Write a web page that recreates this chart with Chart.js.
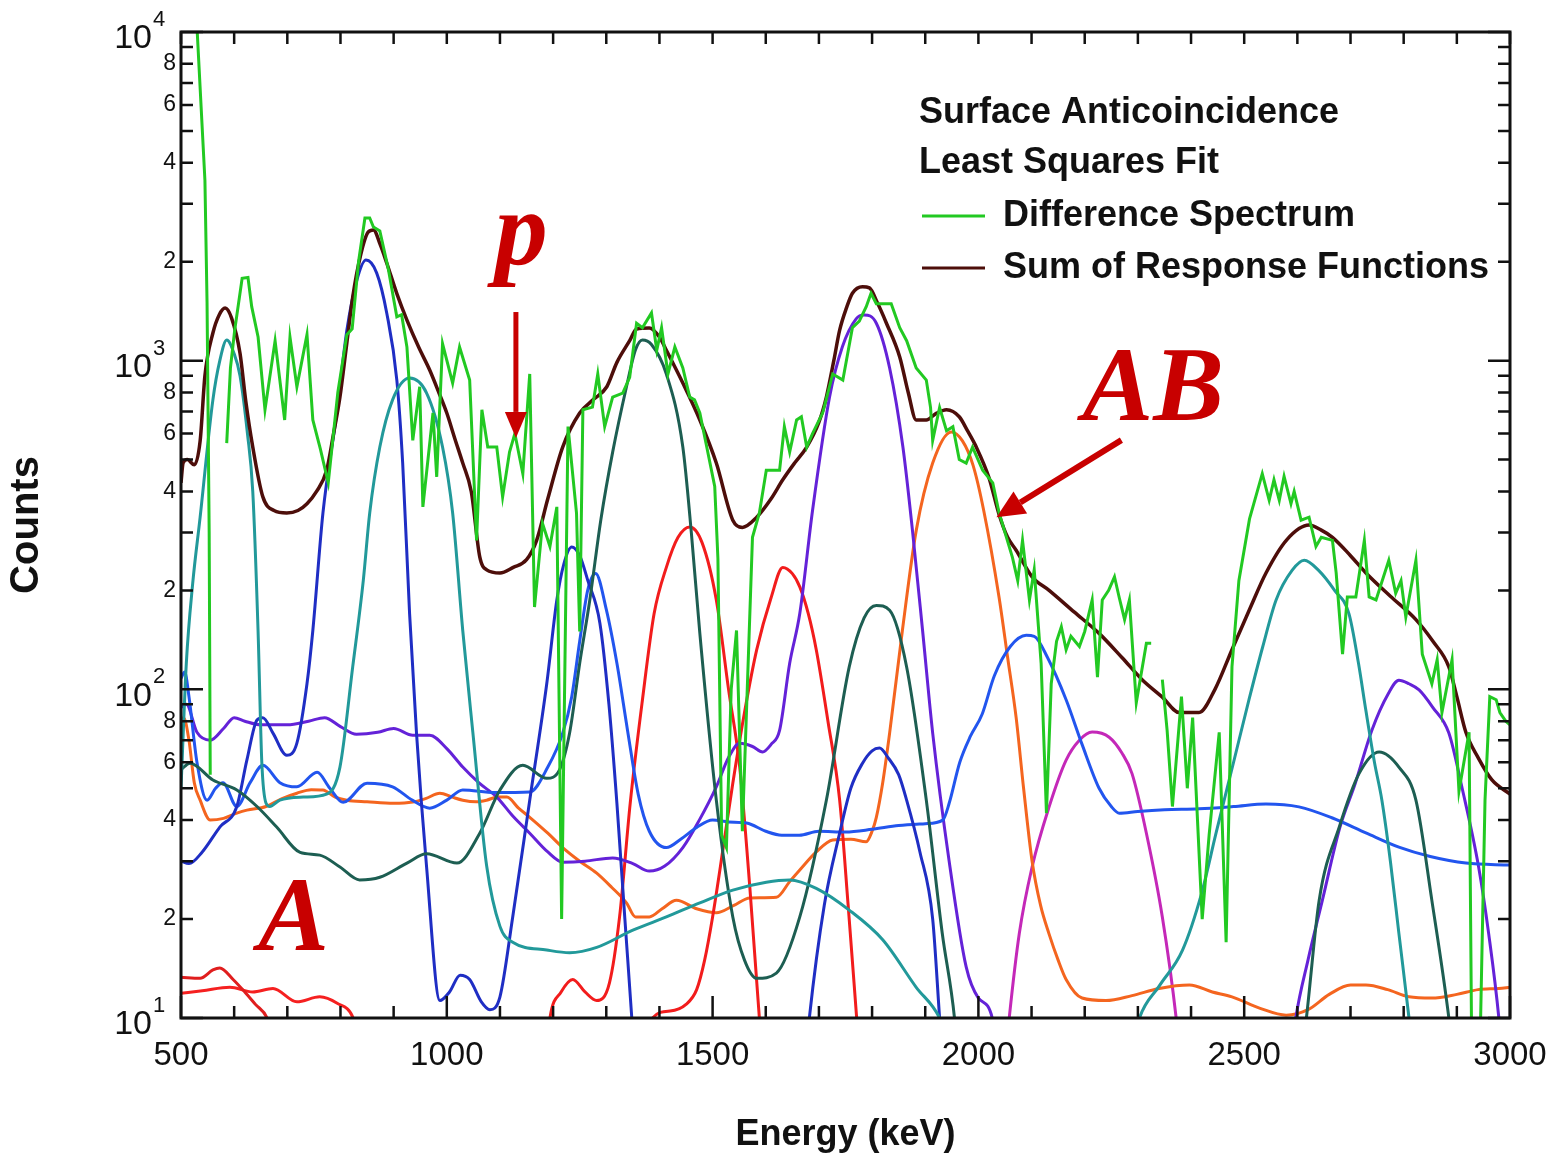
<!DOCTYPE html>
<html>
<head>
<meta charset="utf-8">
<title>Surface Anticoincidence - Least Squares Fit</title>
<script src="https://cdn.jsdelivr.net/npm/chart.js@4.4.1/dist/chart.umd.min.js"></script>
<style>
    html, body { margin: 0; padding: 0; background: #fff; }
    #wrap { width: 1548px; height: 1156px; }
</style>
</head>
<body>
<div id="wrap"><canvas id="spectrumCanvas" width="1548" height="1156"></canvas></div>
<script>
// axis ticks
const energyTicks = [500, 1000, 1500, 2000, 2500, 3000];
const countDecades = [10, 100, 1000, 10000];

// [energy keV, counts], null = gap in the line
const differenceSpectrum = [
    [500, 30000], [528, 12000], [545, 3540], [549, 1500], [553, 300], [555, 55], [560, null],
    [586, 561], [593, 950], [601, 1238], [615, 1780], [626, 1790], [633, 1460], [645, 1180], [658, 709],
    [677, 1150], [695, 660], [705, 1180], [718, 833], [737, 1200], [748, 660], [762, 540], [777, 425],
    [795, 800], [812, 1200], [822, 1250], [834, 2000], [846, 2717], [855, 2717], [862, 2550], [874, 2480],
    [890, 1900], [906, 1360], [915, 1380], [925, 1100], [936, 572], [949, 833], [955, 359], [974, 693],
    [981, 443], [992, 1126], [1011, 855], [1024, 1100], [1043, 873], [1056, 284], [1066, 709], [1077, 546],
    [1094, 546], [1105, 385], [1118, 527], [1128, 600], [1143, 453], [1156, 911], [1165, 178], [1180, 320],
    [1194, 272], [1207, 359], [1216, 20], [1228, 630], [1244, 344], [1250, 150], [1256, 709], [1274, 722],
    [1284, 911], [1297, 630], [1312, 775], [1331, 797], [1344, 889], [1357, 1300], [1368, 1260], [1385, 1397],
    [1395, 1076], [1404, 1260], [1416, 911], [1429, 1100], [1444, 950], [1457, 775], [1466, 760], [1476, 693],
    [1489, 546], [1504, 414], [1510, 250], [1517, 36], [1526, 33], [1535, 100], [1545, 151], [1556, 37],
    [1575, 290], [1588, 344], [1601, 464], [1626, 464], [1635, 630], [1645, 527], [1658, 660], [1667, 675],
    [1677, 546], [1688, 600], [1707, 693], [1726, 911], [1745, 873], [1763, 1260], [1776, 1320], [1789, 1460],
    [1798, 1604], [1808, 1490], [1820, 1490], [1836, 1490], [1852, 1260], [1865, 1150], [1883, 950], [1902, 873],
    [1910, 720], [1914, 572], [1927, 720], [1940, 612], [1952, 630], [1964, 500], [1977, 488], [1989, 546],
    [2008, 464], [2027, 425], [2039, 344], [2064, 252], [2074, 214], [2083, 284], [2096, 187], [2105, 231],
    [2118, 120], [2128, 42], [2137, 104], [2147, 140], [2156, 155], [2165, 132], [2174, 145], [2190, 135],
    [2200, 150], [2214, 187], [2224, 109], [2233, 187], [2245, 200], [2256, 220], [2265, 190], [2275, 163],
    [2284, 187], [2297, 91], [2316, 138], [2325, 138], [2335, null], [2346, 107], [2355, 75], [2365, 44],
    [2382, 95], [2393, 50], [2403, 82], [2421, 20], [2434, 36], [2453, 74], [2466, 17], [2477, 117],
    [2490, 214], [2510, 330], [2534, 453], [2547, 376], [2556, 434], [2566, 376], [2575, 445], [2588, 367],
    [2594, 400], [2607, 327], [2622, 334], [2635, 272], [2645, 290], [2666, 284], [2673, 226], [2685, 128],
    [2694, 191], [2710, 191], [2726, 284], [2735, 191], [2748, 187], [2772, 247], [2785, 196], [2795, 214],
    [2804, 166], [2823, 247], [2835, 128], [2853, 104], [2863, 123], [2872, 85], [2891, 123], [2904, 49],
    [2917, 65], [2923, 74], [2929, 5], [2941, 5], [2953, 46], [2962, 95], [2974, 93], [2981, 85],
    [2992, 80], [3000, 78]
];

const sumOfResponses = [
    [500, 425], [504, 489], [512, 500], [525, 482], [536, 570], [545, 900], [560, 1214], [572, 1380],
    [583, 1446], [595, 1350], [611, 1054], [622, 750], [635, 546], [654, 385], [675, 350], [699, 344],
    [720, 350], [737, 367], [755, 400], [774, 464], [787, 600], [799, 775], [811, 1100], [823, 1559],
    [838, 2100], [852, 2462], [862, 2500], [875, 2250], [887, 1983], [906, 1600], [925, 1329], [947, 1100],
    [968, 935], [985, 800], [1000, 693], [1015, 580], [1030, 488], [1046, 400], [1062, 253], [1075, 231],
    [1100, 226], [1125, 235], [1150, 248], [1169, 284], [1190, 380], [1218, 546], [1250, 693], [1275, 760],
    [1301, 833], [1320, 988], [1344, 1150], [1357, 1249], [1381, 1258], [1400, 1180], [1413, 1076], [1444, 855],
    [1476, 660], [1507, 488], [1538, 327], [1556, 311], [1583, 334], [1610, 380], [1632, 434], [1655, 490],
    [1677, 546], [1700, 650], [1714, 775], [1728, 1000], [1739, 1238], [1752, 1450], [1763, 1604], [1782, 1679],
    [1795, 1665], [1810, 1500], [1827, 1300], [1852, 1026], [1868, 800], [1883, 660], [1902, 660], [1920, 690],
    [1940, 709], [1964, 675], [1980, 610], [1996, 546], [2020, 440], [2039, 340], [2055, 290], [2071, 265],
    [2101, 220], [2133, 200], [2180, 172], [2227, 148], [2270, 125], [2308, 107], [2345, 95], [2378, 85],
    [2415, 85], [2445, 100], [2477, 132], [2510, 175], [2541, 226], [2580, 285], [2622, 316], [2645, 305],
    [2666, 290], [2700, 255], [2729, 226], [2775, 192], [2823, 163], [2855, 140], [2885, 117], [2900, 95],
    [2917, 74], [2940, 62], [2966, 53], [3000, 48]
];

// response functions
const tealPeaks = [
    [500, 50], [510, 120], [522, 210], [536, 334], [560, 760], [573, 1000], [586, 1155], [600, 1050],
    [611, 900], [625, 600], [635, 400], [645, 150], [652, 60], [660, 45], [667, 44], [686, 46],
    [730, 47], [774, 48], [799, 58], [823, 117], [843, 215], [855, 344], [874, 546], [898, 760],
    [930, 885], [962, 797], [992, 546], [1011, 344], [1030, 151], [1049, 74], [1075, 29], [1100, 19],
    [1124, 17], [1188, 16.1], [1231, 15.8], [1282, 16.4], [1350, 18.5], [1413, 20.3], [1476, 22.4], [1538, 24.5],
    [1601, 25.9], [1645, 26.3], [1695, 24.8], [1757, 21.3], [1820, 17.3], [1883, 12.4], [1927, 10], [1960, 7]
];
const tealHigh = [
    [2280, 7], [2303, 10], [2340, 12.5], [2384, 16.1], [2420, 24], [2447, 36.5], [2480, 60], [2509, 93],
    [2535, 135], [2560, 187], [2590, 230], [2613, 247], [2640, 230], [2670, 200], [2697, 170], [2715, 120],
    [2729, 86], [2745, 60], [2759, 46], [2775, 30], [2791, 18.1], [2810, 10], [2825, 6]
];
const darkTealPeaks = [
    [500, 57], [517, 59.6], [560, 53], [605, 49.4], [643, 44], [680, 38.1], [724, 31.9], [761, 31.3],
    [799, 28.8], [836, 26.3], [874, 26.8], [925, 29.6], [962, 31.6], [1019, 29.6], [1062, 36.5], [1100, 49.4],
    [1143, 58.7], [1188, 53.6], [1212, 56.9], [1231, 73.6], [1250, 120], [1269, 187], [1290, 330], [1312, 527],
    [1338, 833], [1355, 1080], [1368, 1156], [1385, 1120], [1413, 911], [1444, 546], [1460, 300], [1476, 148],
    [1507, 46], [1538, 20.3], [1560, 15], [1583, 13.2], [1620, 13.7], [1664, 20.3], [1714, 46], [1757, 117],
    [1785, 165], [1808, 180], [1833, 174], [1865, 117], [1902, 46], [1932, 18.1], [1955, 10], [1970, 5]
];
const darkTealHigh = [
    [2600, 6], [2617, 10], [2641, 22.8], [2679, 38.2], [2716, 55.4], [2754, 64.5], [2791, 58], [2823, 46],
    [2853, 22.8], [2885, 10], [2900, 6]
];
const blueDark = [
    [500, 30], [515, 29.5], [540, 32], [573, 38.1], [605, 44], [624, 61], [643, 80.7], [654, 82],
    [673, 73.6], [699, 63], [718, 68.6], [737, 104], [748, 151], [767, 344], [793, 693], [812, 1238],
    [831, 1762], [848, 2023], [868, 1850], [887, 1397], [906, 873], [917, 488], [930, 170], [943, 73.6],
    [962, 28.8], [987, 11.3], [1005, 12], [1025, 13.5], [1043, 13.1], [1065, 11.2], [1081, 10.6], [1100, 11.6],
    [1124, 20.3], [1156, 46], [1188, 104], [1207, 187], [1220, 240], [1235, 271], [1250, 255], [1265, 215],
    [1288, 159], [1305, 90], [1320, 45], [1335, 20], [1348, 10], [1360, 5]
];
const blueDarkHigh = [
    [1665, 5], [1682, 10], [1710, 22], [1739, 36.5], [1760, 50], [1782, 59.6], [1800, 65], [1814, 66.3],
    [1830, 62], [1850, 55], [1865, 46], [1890, 32], [1914, 20], [1927, 10], [1940, 5]
];
const blueBright = [
    [500, 108], [507, 113], [515, 95], [530, 60], [549, 46], [565, 50], [579, 52], [605, 44],
    [630, 52], [654, 58.7], [686, 52], [718, 50.5], [756, 55.9], [780, 50], [805, 45.3], [850, 51.8],
    [898, 50.5], [935, 46], [968, 43.5], [1000, 46], [1030, 49.4], [1090, 48.5], [1156, 48.7], [1190, 58],
    [1218, 73.6], [1235, 95], [1250, 140], [1265, 200], [1280, 225], [1300, 175], [1320, 120], [1340, 75],
    [1360, 48], [1381, 37], [1413, 33], [1440, 35], [1470, 38], [1500, 40], [1530, 39.5], [1564, 39.2],
    [1600, 37], [1630, 36], [1663, 36], [1700, 37], [1750, 36.8], [1800, 37.5], [1850, 38.5], [1900, 39],
    [1933, 40], [1945, 45], [1965, 60], [1985, 72], [2007, 84], [2030, 110], [2060, 135], [2090, 146],
    [2105, 145], [2130, 125], [2165, 93], [2195, 68], [2227, 50], [2250, 44], [2265, 42], [2300, 42.5],
    [2350, 43], [2415, 43.3], [2480, 44], [2541, 44.8], [2603, 43.9], [2666, 40.6], [2730, 36.5], [2791, 33.1],
    [2850, 31], [2917, 29.6], [3000, 29.2]
];
const purplePeaks = [
    [500, 88], [510, 90], [530, 74], [555, 70], [580, 76], [600, 82], [620, 80], [650, 78],
    [700, 78], [740, 80], [770, 82], [800, 77], [830, 73], [870, 74], [900, 76], [936, 72.5],
    [968, 72.5], [1000, 66], [1030, 58], [1060, 52], [1094, 47], [1125, 41], [1156, 36.5], [1190, 32],
    [1218, 29.8], [1260, 30], [1312, 30.7], [1350, 29.5], [1381, 28], [1410, 29], [1444, 33], [1475, 40],
    [1507, 50.5], [1530, 62], [1551, 68.5], [1575, 67], [1594, 64.5], [1610, 68], [1626, 75], [1645, 120],
    [1664, 170], [1688, 350], [1720, 775], [1744, 1100], [1770, 1340], [1785, 1377], [1808, 1300], [1833, 950],
    [1858, 546], [1876, 304], [1895, 151], [1914, 73.6], [1945, 30], [1977, 14.3], [2000, 11.5], [2026, 10],
    [2040, 6]
];
const purpleHigh = [
    [2580, 6], [2597, 10], [2620, 15], [2647, 22.8], [2680, 38], [2709, 51.8], [2740, 75], [2771, 97],
    [2791, 106.6], [2810, 104], [2829, 99.6], [2855, 88], [2885, 73.6], [2910, 50], [2941, 28.8], [2960, 18],
    [2979, 10], [2990, 6]
];
const redLowA = [
    [500, 13.3], [536, 13.2], [560, 14], [573, 14.2], [598, 13.1], [620, 12], [640, 11], [662, 10], [680, 8]
];
const redLowB = [
    [500, 11.9], [540, 12.1], [592, 12.4], [635, 12], [673, 12.3], [718, 11.2], [761, 11.6], [793, 11.1],
    [824, 10], [840, 8]
];
const redPeak1460 = [
    [1180, 6], [1194, 10], [1215, 12], [1237, 13.1], [1260, 12], [1282, 11.3], [1306, 12.8], [1325, 20.3],
    [1345, 45], [1368, 92.8], [1390, 170], [1413, 235], [1435, 290], [1457, 312], [1480, 280], [1507, 187],
    [1530, 100], [1551, 58], [1570, 25], [1588, 10], [1600, 5]
];
const redPeak1640 = [
    [1375, 6], [1387, 10], [1420, 10.5], [1450, 11], [1470, 12.2], [1485, 15], [1500, 20.3], [1520, 33],
    [1538, 51.8], [1560, 85], [1583, 132], [1610, 190], [1632, 235], [1650, 225], [1664, 205], [1680, 170],
    [1695, 132], [1717, 80], [1739, 46], [1755, 22], [1771, 10], [1785, 5]
];
const orangePeak = [
    [500, 81], [505, 82], [515, 70], [525, 52], [536, 46], [555, 40], [580, 40.5], [605, 42],
    [624, 42.9], [660, 44], [690, 46.5], [718, 48.3], [745, 49.5], [767, 49.4], [790, 47], [812, 46],
    [850, 45.5], [900, 45], [936, 45.4], [960, 46.5], [987, 48.3], [1010, 47], [1030, 46], [1055, 45.5],
    [1075, 46], [1095, 47], [1113, 47], [1135, 43.5], [1156, 40.8], [1190, 36.5], [1218, 33], [1250, 30],
    [1282, 27.6], [1310, 25], [1338, 22.4], [1355, 20.3], [1381, 20.3], [1405, 21.5], [1432, 22.8], [1470, 21.5],
    [1507, 20.9], [1540, 22], [1570, 23.2], [1620, 23.3], [1645, 26], [1664, 28.2], [1695, 32], [1726, 34.8],
    [1760, 35], [1789, 34.4], [1800, 37], [1808, 40.8], [1820, 52], [1833, 73.6], [1857, 151], [1883, 304],
    [1914, 488], [1949, 607], [1970, 570], [1990, 480], [2010, 350], [2039, 190], [2055, 125], [2071, 82],
    [2085, 50], [2101, 30], [2117, 22], [2133, 18], [2150, 15], [2165, 13.1], [2195, 11.5], [2240, 11.3],
    [2289, 11.7], [2340, 12.3], [2397, 12.6], [2440, 12], [2477, 11.6], [2530, 10.7], [2579, 10.2], [2620, 10.6],
    [2660, 11.8], [2700, 12.6], [2729, 12.6], [2770, 12.2], [2810, 11.6], [2853, 11.5], [2900, 11.8], [2940, 12.2],
    [2979, 12.3], [3000, 12.4]
];
const magentaPeak = [
    [2045, 6], [2058, 10], [2077, 18.1], [2101, 28.8], [2133, 43.9], [2165, 60.9], [2190, 70], [2214, 74.1],
    [2246, 71.5], [2270, 64], [2289, 55.4], [2316, 36.5], [2346, 20.3], [2372, 10], [2385, 6]
];

function toPoints(pairs) {
    return pairs.map(p => ({ x: p[0], y: p[1] }));
}

function curve(label, pairs, color, width, smooth) {
    return {
        label: label,
        data: toPoints(pairs),
        borderColor: color,
        backgroundColor: color,
        borderWidth: width,
        pointRadius: 0,
        showLine: true,
        spanGaps: false,
        cubicInterpolationMode: smooth ? 'monotone' : 'default',
        tension: 0,
        clip: 0
    };
}

const sansFont = "'Liberation Sans', Arial, Helvetica, sans-serif";
const serifFont = "'Liberation Serif', 'Times New Roman', serif";
const noteRed = '#c80000';

function drawArrow(ctx, x1, y1, x2, y2, headLen, headWidth, lineWidth) {
    const ang = Math.atan2(y2 - y1, x2 - x1);
    const bx = x2 - headLen * Math.cos(ang);
    const by = y2 - headLen * Math.sin(ang);
    ctx.beginPath();
    ctx.moveTo(x1, y1);
    ctx.lineTo(bx, by);
    ctx.lineWidth = lineWidth;
    ctx.stroke();
    ctx.beginPath();
    ctx.moveTo(x2, y2);
    ctx.lineTo(bx + headWidth / 2 * Math.sin(ang), by - headWidth / 2 * Math.cos(ang));
    ctx.lineTo(bx - headWidth / 2 * Math.sin(ang), by + headWidth / 2 * Math.cos(ang));
    ctx.closePath();
    ctx.fill();
}

// frame, inward ticks, tick labels, titles, legend and the red notes
const axesAndNotes = {
    id: 'axesAndNotes',
    afterDraw(chart) {
        const ctx = chart.ctx;
        const a = chart.chartArea;
        const xs = chart.scales.x;
        const ys = chart.scales.y;
        ctx.save();

        ctx.strokeStyle = '#111';
        ctx.lineWidth = 3;
        ctx.strokeRect(a.left, a.top, a.right - a.left, a.bottom - a.top);

        ctx.lineWidth = 2.5;
        ctx.beginPath();
        for (let e = 500; e <= 3000; e += 100) {
            const px = xs.getPixelForValue(e);
            const len = (e % 500 === 0) ? 22 : 12;
            ctx.moveTo(px, a.bottom); ctx.lineTo(px, a.bottom - len);
            ctx.moveTo(px, a.top); ctx.lineTo(px, a.top + 12);
        }
        for (let d = 10; d < 10000; d *= 10) {
            for (let m = 1; m <= 10; m++) {
                const py = ys.getPixelForValue(d * m);
                const len = (m === 1 || m === 10) ? 22 : 12;
                ctx.moveTo(a.left, py); ctx.lineTo(a.left + len, py);
                ctx.moveTo(a.right, py); ctx.lineTo(a.right - len, py);
            }
        }
        ctx.stroke();

        // x tick labels
        ctx.fillStyle = '#111';
        ctx.font = '33px ' + sansFont;
        ctx.textAlign = 'center';
        ctx.textBaseline = 'middle';
        energyTicks.forEach(e => {
            ctx.fillText(String(e), xs.getPixelForValue(e), a.bottom + 38);
        });

        // y tick labels: 10^n and the 2,4,6,8 minors
        countDecades.forEach(d => {
            const py = ys.getPixelForValue(d);
            ctx.font = '34px ' + sansFont;
            ctx.textAlign = 'right';
            ctx.textBaseline = 'middle';
            ctx.fillText('10', a.left - 29, py + 7);
            ctx.font = '22px ' + sansFont;
            ctx.textAlign = 'left';
            ctx.fillText(String(Math.round(Math.log10(d))), a.left - 28, py - 12);
        });
        ctx.font = '23px ' + sansFont;
        ctx.textAlign = 'right';
        ctx.textBaseline = 'middle';
        for (let d = 10; d < 10000; d *= 10) {
            [2, 4, 6, 8].forEach(m => {
                ctx.fillText(String(m), a.left - 5, ys.getPixelForValue(d * m));
            });
        }

        // axis titles
        ctx.font = 'bold 36px ' + sansFont;
        ctx.textAlign = 'center';
        ctx.fillText('Energy (keV)', (a.left + a.right) / 2, a.bottom + 117);
        ctx.save();
        ctx.translate(27, 525);
        ctx.rotate(-Math.PI / 2);
        ctx.font = 'bold 40px ' + sansFont;
        ctx.fillText('Counts', 0, 0);
        ctx.restore();

        // legend block
        ctx.textAlign = 'left';
        ctx.font = 'bold 36px ' + sansFont;
        ctx.fillText('Surface Anticoincidence', 919, 113);
        ctx.fillText('Least Squares Fit', 919, 163);
        ctx.fillText('Difference Spectrum', 1003, 216);
        ctx.fillText('Sum of Response Functions', 1003, 268);
        ctx.lineWidth = 3;
        ctx.strokeStyle = chart.data.datasets[0].borderColor;
        ctx.beginPath(); ctx.moveTo(922, 216); ctx.lineTo(985, 216); ctx.stroke();
        ctx.strokeStyle = chart.data.datasets[1].borderColor;
        ctx.beginPath(); ctx.moveTo(922, 268); ctx.lineTo(985, 268); ctx.stroke();

        // red notes placed in data coordinates
        ctx.fillStyle = noteRed;
        ctx.strokeStyle = noteRed;
        ctx.font = 'italic bold 106px ' + serifFont;
        ctx.textAlign = 'center';
        ctx.textBaseline = 'alphabetic';
        ctx.fillText('p', xs.getPixelForValue(1140), ys.getPixelForValue(1968));
        ctx.fillText('AB', xs.getPixelForValue(2329), ys.getPixelForValue(659));
        ctx.fillText('A', xs.getPixelForValue(712), ys.getPixelForValue(16.1));
        drawArrow(ctx, xs.getPixelForValue(1130), ys.getPixelForValue(1406),
            xs.getPixelForValue(1130), ys.getPixelForValue(582), 26, 22, 5);
        drawArrow(ctx, xs.getPixelForValue(2269), ys.getPixelForValue(573),
            xs.getPixelForValue(2034), ys.getPixelForValue(334), 28, 26, 6);

        ctx.restore();
    }
};

new Chart(document.getElementById('spectrumCanvas'), {
    type: 'scatter',
    data: {
        datasets: [
            curve('Difference Spectrum', differenceSpectrum, '#22c922', 3, false),
            curve('Sum of Response Functions', sumOfResponses, '#4d0e0a', 3.5, true),
            curve('teal', tealPeaks, '#22999a', 3, true),
            curve('teal high', tealHigh, '#22999a', 3, true),
            curve('dark teal', darkTealPeaks, '#1d5e52', 3, true),
            curve('dark teal high', darkTealHigh, '#1d5e52', 3, true),
            curve('blue', blueDark, '#1f2ec4', 3, true),
            curve('blue high', blueDarkHigh, '#1f2ec4', 3, true),
            curve('bright blue', blueBright, '#2255ee', 3, true),
            curve('purple', purplePeaks, '#6422d8', 3, true),
            curve('purple high', purpleHigh, '#6422d8', 3, true),
            curve('red low a', redLowA, '#e01e1e', 3, true),
            curve('red low b', redLowB, '#f52020', 3, true),
            curve('red 1460', redPeak1460, '#f21c1c', 3, true),
            curve('red 1640', redPeak1640, '#f21c1c', 3, true),
            curve('orange', orangePeak, '#f4651f', 3, true),
            curve('magenta', magentaPeak, '#c428b8', 3, true)
        ]
    },
    options: {
        responsive: false,
        devicePixelRatio: 1,
        animation: false,
        layout: { padding: { left: 181, top: 32, right: 38, bottom: 138 } },
        plugins: {
            legend: { display: false },
            tooltip: { enabled: false }
        },
        scales: {
            x: { type: 'linear', min: 500, max: 3000, display: false },
            y: { type: 'logarithmic', min: 10, max: 10000, display: false }
        }
    },
    plugins: [axesAndNotes]
});
</script>
</body>
</html>
